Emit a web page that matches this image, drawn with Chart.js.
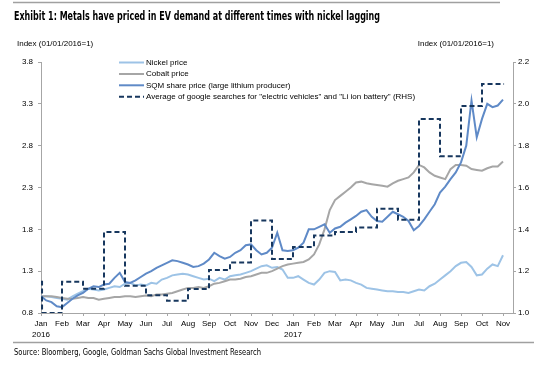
<!DOCTYPE html>
<html>
<head>
<meta charset="utf-8">
<script src="https://cdn.jsdelivr.net/npm/chart.js@4.4.0/dist/chart.umd.min.js"></script>
<style>
  html, body { margin: 0; padding: 0; background: #fff; }
  #wrap { position: relative; width: 559px; height: 376px; }
</style>
</head>
<body>
<div id="wrap"><canvas id="chart" width="559" height="376"></canvas></div>
<script>
// x = months since Jan 2016 (12 = Jan 2017), sampled four times a month
const months = Array.from({ length: 89 }, (_, i) => i / 4);

// Left axis series, index 01/01/2016 = 1
const nickel = [
  1.00, 1.00, 0.99, 0.98, 0.97, 0.96, 1.00, 1.03, 1.06, 1.09, 1.08, 1.07,
  1.08, 1.10, 1.12, 1.11, 1.15, 1.16, 1.13, 1.14, 1.13, 1.16, 1.15, 1.20,
  1.22, 1.25, 1.26, 1.27, 1.26, 1.24, 1.22, 1.20, 1.21, 1.18, 1.22, 1.20,
  1.24, 1.25, 1.26, 1.28, 1.30, 1.33, 1.36, 1.37, 1.34, 1.35, 1.32, 1.22,
  1.22, 1.24, 1.20, 1.16, 1.14, 1.20, 1.28, 1.30, 1.29, 1.19, 1.20, 1.19,
  1.16, 1.14, 1.10, 1.09, 1.08, 1.07, 1.06, 1.06, 1.05, 1.05, 1.04, 1.06,
  1.08, 1.07, 1.12, 1.15, 1.20, 1.25, 1.30, 1.36, 1.40, 1.41, 1.35, 1.25,
  1.26, 1.33, 1.38, 1.36, 1.49
];
const cobalt = [
  1.00, 1.00, 1.00, 0.99, 0.98, 0.97, 0.97, 0.98, 0.99, 0.98, 0.98, 0.96,
  0.97, 0.98, 0.99, 0.99, 1.00, 1.00, 0.99, 1.00, 1.01, 1.00, 1.02, 1.02,
  1.03, 1.04, 1.06, 1.08, 1.10, 1.10, 1.11, 1.10, 1.12, 1.15, 1.16, 1.18,
  1.20, 1.20, 1.21, 1.23, 1.24, 1.26, 1.28, 1.28, 1.30, 1.33, 1.36, 1.38,
  1.39, 1.40, 1.41, 1.44, 1.50, 1.62, 1.80, 2.03, 2.15, 2.20, 2.25, 2.30,
  2.36, 2.37, 2.35, 2.34, 2.33, 2.32, 2.31, 2.35, 2.38, 2.40, 2.42, 2.48,
  2.57, 2.54, 2.48, 2.44, 2.42, 2.40, 2.52, 2.57, 2.57, 2.56, 2.52, 2.51,
  2.50, 2.53, 2.55, 2.55, 2.61
];
const sqm = [
  1.00, 0.95, 0.93, 0.88, 0.87, 0.92, 0.97, 1.01, 1.04, 1.09, 1.12, 1.11,
  1.14, 1.15, 1.22, 1.28, 1.17, 1.16, 1.19, 1.23, 1.27, 1.30, 1.34, 1.37,
  1.40, 1.43, 1.42, 1.40, 1.38, 1.35, 1.36, 1.39, 1.44, 1.52, 1.48, 1.45,
  1.47, 1.52, 1.55, 1.61, 1.62, 1.55, 1.50, 1.52, 1.58, 1.76, 1.55, 1.54,
  1.55, 1.58, 1.64, 1.80, 1.80, 1.83, 1.86, 1.76, 1.81, 1.83, 1.88, 1.92,
  1.96, 2.01, 2.03, 1.95, 1.90, 1.89, 1.95, 2.01, 1.98, 1.95, 1.90, 1.79,
  1.84, 1.92, 2.01, 2.10, 2.24, 2.31, 2.40, 2.48, 2.60, 2.80, 3.34, 2.90,
  3.12, 3.30, 3.26, 3.28, 3.35
];

// Right axis: monthly average of google searches, value holds until next month
const googleMonths = [0, 0.05, 1, 2, 3, 4, 5, 6, 7, 8, 9, 10, 11,
  12, 13, 14, 15, 16, 17, 18, 19, 20, 21, 22.05];
const googleValues = [1.15, 1.00, 1.15, 1.116, 1.387, 1.13, 1.085, 1.058, 1.115, 1.205, 1.242, 1.442, 1.258,
  1.316, 1.37, 1.387, 1.409, 1.499, 1.446, 1.927, 1.75, 1.99, 2.095, 2.095];

const monthNames = ['Jan', 'Feb', 'Mar', 'Apr', 'May', 'Jun', 'Jul', 'Aug', 'Sep', 'Oct', 'Nov', 'Dec'];
const yearNames = ['2016', '2017'];

const AXIS_GREY = '#a6a6a6';
const FONT = '"Liberation Sans", Arial, sans-serif';
const NARROW = '"Liberation Sans Narrow", "DejaVu Sans Condensed", "Liberation Sans", sans-serif';

function fitText(ctx, text, x, y, width) {
  const w = ctx.measureText(text).width;
  ctx.save();
  ctx.translate(x, y);
  ctx.scale(width / w, 1);
  ctx.fillText(text, 0, 0);
  ctx.restore();
}

// titles, rules, source line and the in-plot legend
const decor = {
  id: 'decor',
  afterDraw(chart) {
    const ctx = chart.ctx;
    ctx.save();
    ctx.strokeStyle = '#a0a0a0';
    ctx.lineWidth = 1.5;
    ctx.beginPath();
    ctx.moveTo(13, 2.5); ctx.lineTo(500, 2.5);
    ctx.moveTo(13, 342.5); ctx.lineTo(534, 342.5);
    ctx.stroke();

    ctx.fillStyle = '#000';
    ctx.textBaseline = 'middle';
    ctx.font = 'bold 12px ' + NARROW;
    fitText(ctx, 'Exhibit 1: Metals have priced in EV demand at different times with nickel lagging', 14, 17, 366);

    ctx.font = '8px ' + FONT;
    ctx.textAlign = 'left';
    ctx.fillText('Index (01/01/2016=1)', 17, 44);
    ctx.textAlign = 'right';
    ctx.fillText('Index (01/01/2016=1)', 494, 44);
    ctx.textAlign = 'left';

    ctx.font = '9px ' + NARROW;
    fitText(ctx, 'Source: Bloomberg, Google, Goldman Sachs Global Investment Research', 14, 353, 247);

    // legend
    const rows = [62.5, 74, 85.3, 96.7];
    ctx.font = '8px ' + FONT;
    chart.data.datasets.forEach((ds, i) => {
      const y = rows[i];
      ctx.strokeStyle = ds.borderColor;
      ctx.lineWidth = 2;
      ctx.setLineDash(ds.borderDash || []);
      ctx.beginPath();
      ctx.moveTo(119, y); ctx.lineTo(144, y);
      ctx.stroke();
      ctx.setLineDash([]);
      ctx.fillText(ds.label, 146, y);
    });
    ctx.restore();
  }
};

const toPoints = (xs, ys) => xs.map((x, i) => ({ x: x, y: ys[i] }));

new Chart(document.getElementById('chart'), {
  type: 'line',
  data: {
    datasets: [
      { label: 'Nickel price', data: toPoints(months, nickel), borderColor: '#9dc3e6',
        yAxisID: 'y', order: 4 },
      { label: 'Cobalt price', data: toPoints(months, cobalt), borderColor: '#a6a6a6',
        yAxisID: 'y', order: 3 },
      { label: 'SQM share price (large lithium producer)', data: toPoints(months, sqm), borderColor: '#5f8ac7',
        yAxisID: 'y', order: 2 },
      { label: 'Average of google searches for "electric vehicles" and "Li ion battery" (RHS)',
        data: toPoints(googleMonths, googleValues), borderColor: '#17375e', borderDash: [5, 3],
        stepped: 'before', yAxisID: 'y1', order: 1 }
    ]
  },
  options: {
    responsive: false,
    animation: false,
    events: [],
    layout: { padding: { top: 62, left: 0, right: 0, bottom: 0 } },
    elements: {
      point: { radius: 0 },
      line: { borderWidth: 2, tension: 0, fill: false }
    },
    plugins: { legend: { display: false }, tooltip: { enabled: false } },
    scales: {
      x: {
        type: 'linear',
        min: 0,
        max: 22.476,
        afterFit: (s) => { s.height = 63; },
        border: { display: true, color: AXIS_GREY, width: 1 },
        grid: { drawOnChartArea: false, drawTicks: true, tickLength: 3, color: AXIS_GREY },
        ticks: {
          stepSize: 1,
          includeBounds: false,
          autoSkip: false,
          maxRotation: 0,
          padding: 3,
          color: '#000',
          font: { family: FONT, size: 8, lineHeight: 1.3 },
          callback: (v) => {
            const name = monthNames[v % 12];
            return v % 12 === 0 ? [name, yearNames[v / 12]] : name;
          }
        }
      },
      y: {
        position: 'left',
        min: 0.8,
        max: 3.8,
        afterFit: (s) => { s.width = 41; },
        border: { display: true, color: AXIS_GREY, width: 1 },
        grid: { drawOnChartArea: false, drawTicks: true, tickLength: 3, color: AXIS_GREY },
        ticks: {
          stepSize: 0.5,
          padding: 5,
          color: '#000',
          font: { family: FONT, size: 8 },
          callback: (v) => v.toFixed(1)
        }
      },
      y1: {
        position: 'right',
        min: 1.0,
        max: 2.2,
        afterFit: (s) => { s.width = 46; },
        border: { display: true, color: AXIS_GREY, width: 1 },
        grid: { drawOnChartArea: false, drawTicks: true, tickLength: 3, color: AXIS_GREY },
        ticks: {
          stepSize: 0.2,
          padding: 2,
          color: '#000',
          font: { family: FONT, size: 8 },
          callback: (v) => v.toFixed(1)
        }
      }
    }
  },
  plugins: [decor]
});
</script>
</body>
</html>
